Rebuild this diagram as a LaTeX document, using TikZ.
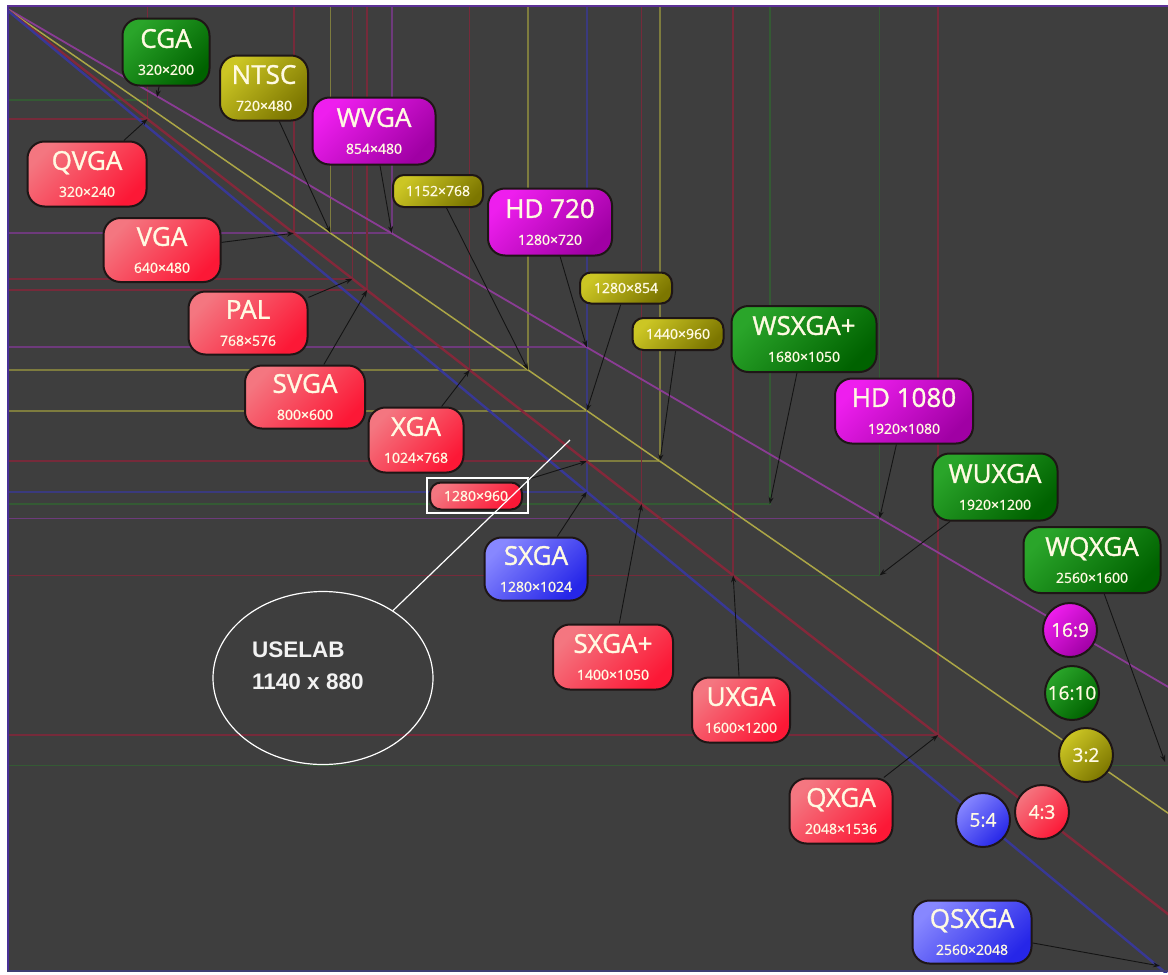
\documentclass[tikz,border=0pt]{standalone}
\usepackage{fontspec}
\setmainfont{Open Sans}[FakeBold=1.1]
\newfontfamily\titlefont{Open Sans}[FakeBold=1.3]
\newfontfamily\labfont{Liberation Sans}
\usetikzlibrary{arrows.meta,shapes.geometric}

% background and frame
\definecolor{bg}{RGB}{62,62,62}
\definecolor{edgeL}{RGB}{72,48,150}
\definecolor{edgeT}{RGB}{92,48,150}
\definecolor{edgeB}{RGB}{62,62,115}
% rectangle outlines of each resolution
\definecolor{lred}{RGB}{118,42,58}
\definecolor{lyel}{RGB}{126,124,62}
\definecolor{lmag}{RGB}{110,58,124}
\definecolor{lgrn}{RGB}{52,90,52}
\definecolor{lblu}{RGB}{58,58,126}
% aspect-ratio diagonals
\definecolor{dred}{RGB}{132,40,58}
\definecolor{dyel}{RGB}{172,166,70}
\definecolor{dmag}{RGB}{138,60,148}
\definecolor{dblu}{RGB}{56,56,150}
% label fills
\definecolor{redA}{RGB}{244,118,128}
\definecolor{redB}{RGB}{252,24,54}
\definecolor{grnA}{RGB}{42,165,42}
\definecolor{grnB}{RGB}{0,98,0}
\definecolor{magA}{RGB}{238,30,238}
\definecolor{magB}{RGB}{160,0,164}
\definecolor{yelA}{RGB}{204,198,36}
\definecolor{yelB}{RGB}{124,118,0}
\definecolor{bluA}{RGB}{135,135,255}
\definecolor{bluB}{RGB}{38,38,232}
\definecolor{rim}{RGB}{30,22,22}
\definecolor{txt}{RGB}{255,250,226}
\definecolor{conncol}{RGB}{20,20,20}

\newcommand\resline[1]{\\[-1pt]{\normalfont\fontsize{14}{16}\selectfont #1}}

\tikzset{
  box/.style={rounded corners=17pt, draw=rim, line width=2pt, align=center,
    text=txt, inner sep=0pt, font=\titlefont\fontsize{26}{28}\selectfont},
  pill/.style={rounded corners=11pt, draw=rim, line width=2pt, text=txt,
    inner sep=0pt, font=\fontsize{14}{16}\selectfont},
  ratio/.style={circle, draw=rim, line width=2pt, text=txt, inner sep=0pt,
    minimum size=54pt, font=\fontsize{19}{21}\selectfont},
  redfill/.style={top color=redA, bottom color=redB, shading angle=45},
  grnfill/.style={top color=grnA, bottom color=grnB, shading angle=45},
  magfill/.style={top color=magA, bottom color=magB, shading angle=45},
  yelfill/.style={top color=yelA, bottom color=yelB, shading angle=45},
  blufill/.style={top color=bluA, bottom color=bluB, shading angle=45},
  outline/.style={line width=1.6pt},
  diag/.style={line width=2.2pt},
  conn/.style={draw=conncol, line width=0.9pt, -{Stealth[length=7pt,width=5pt]}},
}

\begin{document}
\begin{tikzpicture}[x=1pt,y=-1pt]
\useasboundingbox (0,0) rectangle (1168,975);
\fill[white] (0,0) rectangle (1168,975);
\fill[bg] (7,5) rectangle (1168,972);

\begin{scope}
  \clip (7,5) rectangle (1168,972);
  % one rectangle per resolution: x = 1 + 0.4576 w, y = 5 + 0.4753 h
  \foreach \n/\w/\h/\c in {
      CGA/320/200/grn, QVGA/320/240/red, VGA/640/480/red, NTSC/720/480/yel,
      WVGA/854/480/mag, PAL/768/576/red, SVGA/800/600/red, XGA/1024/768/red,
      r1152/1152/768/yel, HD720/1280/720/mag, r1280a/1280/854/yel,
      r1440/1440/960/yel, r1280b/1280/960/red, SXGA/1280/1024/blu,
      SXGAp/1400/1050/red, WSXGAp/1680/1050/grn, HD1080/1920/1080/mag,
      WUXGA/1920/1200/grn, UXGA/1600/1200/red, QXGA/2048/1536/red,
      WQXGA/2560/1600/grn, QSXGA/2560/2048/blu}{
    \coordinate (c-\n) at ({1+0.4576*\w},{5+0.4753*\h});
    \draw[outline, draw=l\c] (7,{5+0.4753*\h}) -- (c-\n) -- ({1+0.4576*\w},5);
  }
  % aspect-ratio diagonals from the origin
  \coordinate (origin) at (1,5);
  \foreach \a/\b/\c/\lw in {16/9/mag/1.8pt, 3/2/yel/1.5pt, 4/3/red/2.4pt, 5/4/blu/2.4pt}{
    \draw[diag, line width=\lw, draw=d\c] (origin) -- ({1+0.4576*2700},{5+0.4753*2700*\b/\a});
  }
\end{scope}
\draw[draw=edgeL, line width=2.5pt] (8.2,5) -- (8.2,972);
\draw[draw=edgeT, line width=2pt] (7,6) -- (1168,6);
\draw[draw=edgeB, line width=2pt] (7,971) -- (1168,971);

% resolution labels
\node[box, grnfill, minimum width=87pt, minimum height=67pt] (CGA) at (166,52) {CGA\resline{320×200}};
\node[box, yelfill, minimum width=88pt, minimum height=65pt] (NTSC) at (264,88) {NTSC\resline{720×480}};
\node[box, magfill, minimum width=123pt, minimum height=67pt] (WVGA) at (374,131) {WVGA\resline{854×480}};
\node[box, redfill, minimum width=119pt, minimum height=65pt] (QVGA) at (87,174) {QVGA\resline{320×240}};
\node[box, redfill, minimum width=117pt, minimum height=64pt] (VGA) at (162,250) {VGA\resline{640×480}};
\node[box, redfill, minimum width=119pt, minimum height=63pt] (PAL) at (248,323) {PAL\resline{768×576}};
\node[box, redfill, minimum width=120pt, minimum height=63pt] (SVGA) at (305,397) {SVGA\resline{800×600}};
\node[box, redfill, minimum width=95pt, minimum height=65pt] (XGA) at (416,440) {XGA\resline{1024×768}};
\node[pill, yelfill, minimum width=90pt, minimum height=32pt] (r1152) at (438,191) {1152×768};
\node[box, magfill, minimum width=124pt, minimum height=67pt] (HD720) at (550,222) {HD 720\resline{1280×720}};
\node[pill, yelfill, minimum width=92pt, minimum height=31pt] (r1280a) at (626,288) {1280×854};
\node[pill, yelfill, minimum width=91pt, minimum height=32pt] (r1440) at (678,334) {1440×960};
\node[box, grnfill, minimum width=145pt, minimum height=66pt] (WSXGAp) at (804,339) {WSXGA+\resline{1680×1050}};
\node[box, magfill, minimum width=138pt, minimum height=65pt] (HD1080) at (904,411) {HD 1080\resline{1920×1080}};
\node[box, grnfill, minimum width=125pt, minimum height=67pt] (WUXGA) at (995,487) {WUXGA\resline{1920×1200}};
\node[box, grnfill, minimum width=137pt, minimum height=66pt] (WQXGA) at (1092,560) {WQXGA\resline{2560×1600}};
\node[pill, redfill, minimum width=92pt, minimum height=27pt] (r1280b) at (476,496) {1280×960};
\node[draw=white, line width=2pt, minimum width=101pt, minimum height=35pt, inner sep=0pt] (hl) at (477,495) {};
\node[box, blufill, minimum width=103pt, minimum height=63pt] (SXGA) at (536,569) {SXGA\resline{1280×1024}};
\node[box, redfill, minimum width=120pt, minimum height=65pt] (SXGAp) at (613,657) {SXGA+\resline{1400×1050}};
\node[box, redfill, minimum width=98pt, minimum height=65pt] (UXGA) at (741,710) {UXGA\resline{1600×1200}};
\node[box, redfill, minimum width=103pt, minimum height=65pt] (QXGA) at (841,811) {QXGA\resline{2048×1536}};
\node[box, blufill, minimum width=119pt, minimum height=63pt] (QSXGA) at (972,932) {QSXGA\resline{2560×2048}};

% aspect-ratio keys
\node[ratio, magfill] (k169) at (1070,630) {16:9};
\node[ratio, grnfill] (k1610) at (1072,693) {16:10};
\node[ratio, yelfill] (k32) at (1086,755) {3:2};
\node[ratio, redfill] (k43) at (1042,812) {4:3};
\node[ratio, blufill] (k54) at (983,820) {5:4};

% connectors to the corner of each resolution
\coordinate (t-CGA) at (157,97);
\coordinate (t-WQXGA) at (1165,762);
\coordinate (t-QSXGA) at (1160,966);
\foreach \a/\b in {CGA/t-CGA, QVGA/c-QVGA, VGA/c-VGA, NTSC/c-NTSC, WVGA/c-WVGA,
    PAL/c-PAL, SVGA/c-SVGA, XGA/c-XGA, r1152/c-r1152, HD720/c-HD720,
    r1280a/c-r1280a, r1440/c-r1440, hl/c-r1280b, SXGA/c-SXGA, SXGAp/c-SXGAp,
    WSXGAp/c-WSXGAp, HD1080/c-HD1080, WUXGA/c-WUXGA, UXGA/c-UXGA, QXGA/c-QXGA,
    WQXGA/t-WQXGA, QSXGA/t-QSXGA}{
  \draw[conn] (\a) -- (\b);
}

% the USELAB window size
\node[ellipse, draw=white, line width=1.2pt, minimum width=220pt, minimum height=173pt, inner sep=0pt] (uselab) at (323,678) {};
\node[anchor=north west, align=left, text={rgb,255:red,242;green,242;blue,242}, inner sep=0pt,
  font=\labfont\bfseries\fontsize{22.5}{32}\selectfont] (uselabtxt) at (252,641.5) {USELAB\\1140 x 880};
\coordinate (usept) at (570,440);
\draw[white, line width=1.2pt] (uselab) -- (usept);
\end{tikzpicture}
\end{document}
